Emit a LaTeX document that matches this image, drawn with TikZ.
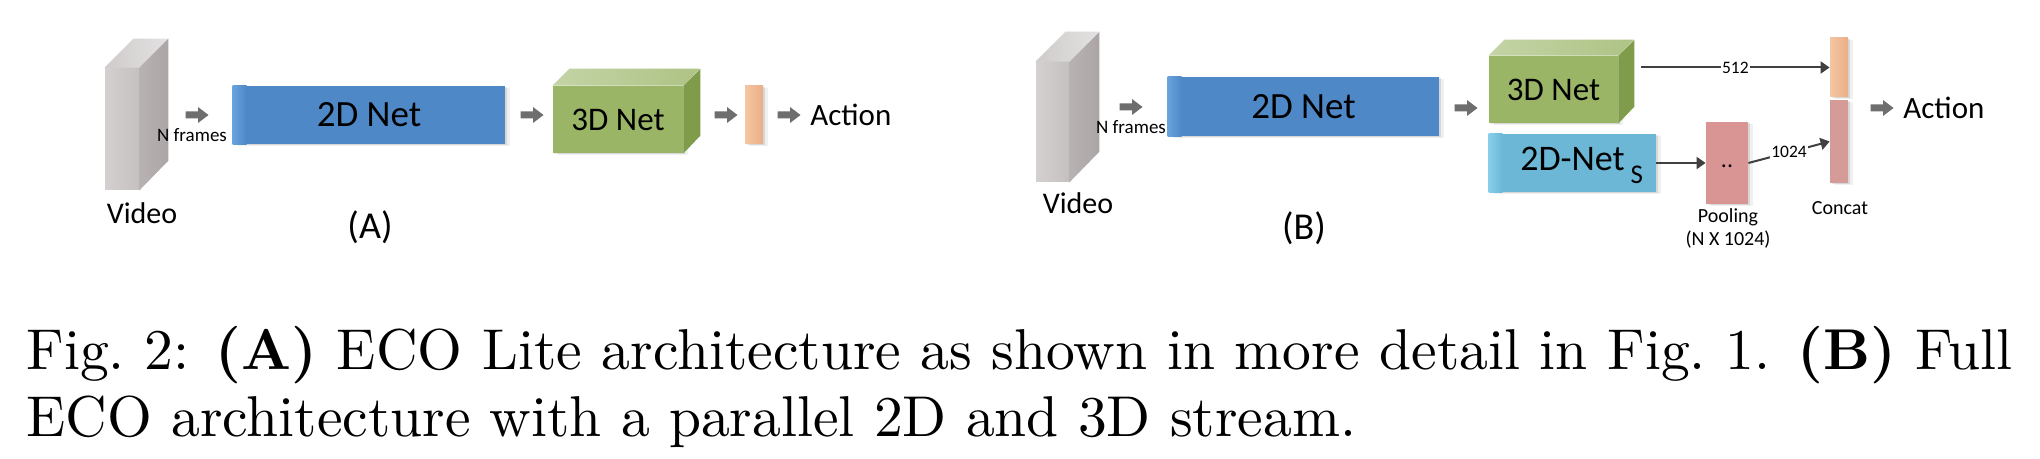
\documentclass[tikz,border=0pt]{standalone}
\usepackage{graphicx}
\usepackage{fontspec}
\newfontfamily\calfont{Carlito}
\usetikzlibrary{arrows.meta,shadows}
\definecolor{arrowgray}{HTML}{6E6E6E}
\definecolor{connc}{HTML}{404040}
\definecolor{netblue}{HTML}{4F88C7}
\definecolor{netbluel}{HTML}{6AA2DE}
\definecolor{gfront}{HTML}{9BB566}
\definecolor{gtopl}{HTML}{C4D4A6}
\definecolor{gtopr}{HTML}{AEC385}
\definecolor{gside}{HTML}{7E9C4A}
\definecolor{orl}{HTML}{F5C6A2}
\definecolor{orr}{HTML}{E8AF88}
\definecolor{sblue}{HTML}{6CB6D6}
\definecolor{sbluel}{HTML}{88CEEA}
\definecolor{poolc}{HTML}{D99593}
\definecolor{catpink}{HTML}{D59B99}
\definecolor{vfl}{HTML}{D4D0D0}
\definecolor{vfr}{HTML}{C6C1C1}
\definecolor{vsl}{HTML}{B9B2B2}
\definecolor{vsr}{HTML}{ACA5A5}
\definecolor{vtl}{HTML}{CFCBCB}
\definecolor{vtr}{HTML}{E3E1E1}
\begin{document}
\begin{tikzpicture}[x=0.5pt,y=-0.5pt,
  lbl/.style={inner sep=0pt, font=\calfont\fontsize{#1}{#1}\selectfont},
  barrowpic/.pic={\fill[arrowgray] (-11.5,-3.5) -- (1,-3.5) -- (1,-8) -- (11.5,0) -- (1,8) -- (1,3.5) -- (-11.5,3.5) -- cycle;},
  sft/.style={drop shadow={shadow xshift=1.2pt,shadow yshift=-0.6pt,opacity=0.10,fill=black},
              drop shadow={shadow xshift=2.6pt,shadow yshift=-1.2pt,opacity=0.06,fill=black}},
  box/.style={draw=none, inner sep=0pt, minimum width=#1},
  conn/.style={draw=connc, line width=1pt, -{Triangle[length=4.5pt,width=6pt]}},
  numlbl/.style={lbl=8.75pt, fill=white, inner sep=0.6pt}
]
\fill[white] (0,0) rectangle (2040,459);
\useasboundingbox (0,0) rectangle (2040,459);

% ---------------- Panel A ----------------
\node[box=17pt, minimum height=61pt, left color=vfl, right color=vfr] (vidA) at (122,129) {};
\shade[left color=vtl, right color=vtr] (vidA.north west) -- ++(29,-29) -- ++(34,0) -- (vidA.north east) -- cycle;
\shade[left color=vsl, right color=vsr] (vidA.north east) -- ++(29,-29) -- ++(0,122) -- (vidA.south east) -- cycle;
\node[lbl=15pt] (vidAl) at (142,213) {Video};

\pic (aA1) at (197,115) {barrowpic};
\node[lbl=9.5pt] (nfA) at (192,135) {N frames};

\node[box=136pt, minimum height=29pt, fill=netblue, sft] (n2A) at (369,115) {};
\shade[left color=netbluel, right color=netblue] (n2A.south west) rectangle ([xshift=7pt]n2A.north west);
\node[lbl=18.5pt] (n2At) at (n2A.center) {2D Net};

\pic (aA2) at (532,115) {barrowpic};

\node[box=65pt, minimum height=33.5pt, fill=gfront, sft, lbl=16.5pt] (n3A) at (618,119.5) {3D Net};
\shade[left color=gtopl, right color=gtopr] (n3A.north west) -- ++(17,-17) -- ++(130,0) -- (n3A.north east) -- cycle;
\fill[gside] (n3A.north east) -- ++(17,-17) -- ++(0,67) -- (n3A.south east) -- cycle;

\pic (aA3) at (726,115) {barrowpic};
\node[box=9pt, minimum height=29pt, left color=orl, right color=orr, sft] (orA) at (754,115) {};
\pic (aA4) at (789,115) {barrowpic};
\node[lbl=15.5pt, anchor=west] (actA) at (810,115) {Action};

\node[lbl=19pt] (capA) at (370,227) {(A)};

% ---------------- Panel B ----------------
\node[box=16.5pt, minimum height=60pt, left color=vfl, right color=vfr] (vidB) at (1052.5,122) {};
\shade[left color=vtl, right color=vtr] (vidB.north west) -- ++(30,-30) -- ++(33,0) -- (vidB.north east) -- cycle;
\shade[left color=vsl, right color=vsr] (vidB.north east) -- ++(30,-30) -- ++(0,120) -- (vidB.south east) -- cycle;
\node[lbl=15pt] (vidBl) at (1078,203) {Video};

\pic (aB1) at (1131,107) {barrowpic};
\node[lbl=9.5pt] (nfB) at (1131,127) {N frames};

\node[box=135.5pt, minimum height=29.5pt, fill=netblue, sft] (n2B) at (1303.5,106.5) {};
\shade[left color=netbluel, right color=netblue] (n2B.south west) rectangle ([xshift=7pt]n2B.north west);
\node[lbl=18.5pt] (n2Bt) at (n2B.center) {2D Net};

\pic (aB2) at (1466,108) {barrowpic};

\node[box=64.5pt, minimum height=33.5pt, fill=gfront, sft, lbl=16.5pt] (n3B) at (1553.5,89.5) {3D Net};
\shade[left color=gtopl, right color=gtopr] (n3B.north west) -- ++(16,-16) -- ++(129,0) -- (n3B.north east) -- cycle;
\fill[gside] (n3B.north east) -- ++(16,-16) -- ++(0,67) -- (n3B.south east) -- cycle;
\coordinate (n3out) at (1641,67.5);

\node[box=83.5pt, minimum height=29pt, fill=sblue, sft] (nS) at (1572.5,163) {};
\shade[left color=sbluel, right color=sblue] (nS.south west) rectangle ([xshift=7pt]nS.north west);
\node[lbl=18pt] (nSt) at ([yshift=-1pt]nS.center) {2D-Net\rlap{\kern3pt\raisebox{-6.5pt}{\fontsize{13.5pt}{13.5pt}\selectfont S}}};

\node[box=21pt, minimum height=41pt, fill=poolc, sft, lbl=12pt] (pool) at (1727,163) {\raisebox{-4.5pt}{..}};
\node[lbl=10pt, align=center] (poolL) at (1728,228.5) {Pooling\\[1.5pt](N X 1024)};

\node[box=9pt, minimum height=29.5pt, left color=orl, right color=orr, sft] (catT) at (1839,67.5) {};
\node[box=9pt, minimum height=41.5pt, fill=catpink, sft] (catB) at (1839,141.5) {};
\node[lbl=10pt] (catL) at (1840,208) {Concat};

\draw[conn] (n3out) -- node[numlbl] {512} (catT.west);
\draw[conn] (nS.east) -- (pool.west);
\draw[conn] (pool.east) -- node[numlbl] {1024} (catB.west);

\pic (aB3) at (1882,108) {barrowpic};
\node[lbl=15.5pt, anchor=west] (actB) at (1903,108) {Action};

\node[lbl=19pt] (capB) at (1304,228) {(B)};

% ---------------- Caption ----------------
\node[anchor=base west, inner sep=0pt] (cap1) at (26,370)
  {\scalebox{2.88}{\fontsize{10pt}{12pt}\selectfont\makebox[344.8pt][s]{Fig.~2: \textbf{(A)} ECO Lite architecture as shown in more detail in Fig.~1. \textbf{(B)} Full}}};
\node[anchor=base west, inner sep=0pt] (cap2) at (26,437)
  {\scalebox{2.88}{\fontsize{10pt}{12pt}\selectfont ECO architecture with a parallel 2D and 3D stream.}};
\end{tikzpicture}
\end{document}
